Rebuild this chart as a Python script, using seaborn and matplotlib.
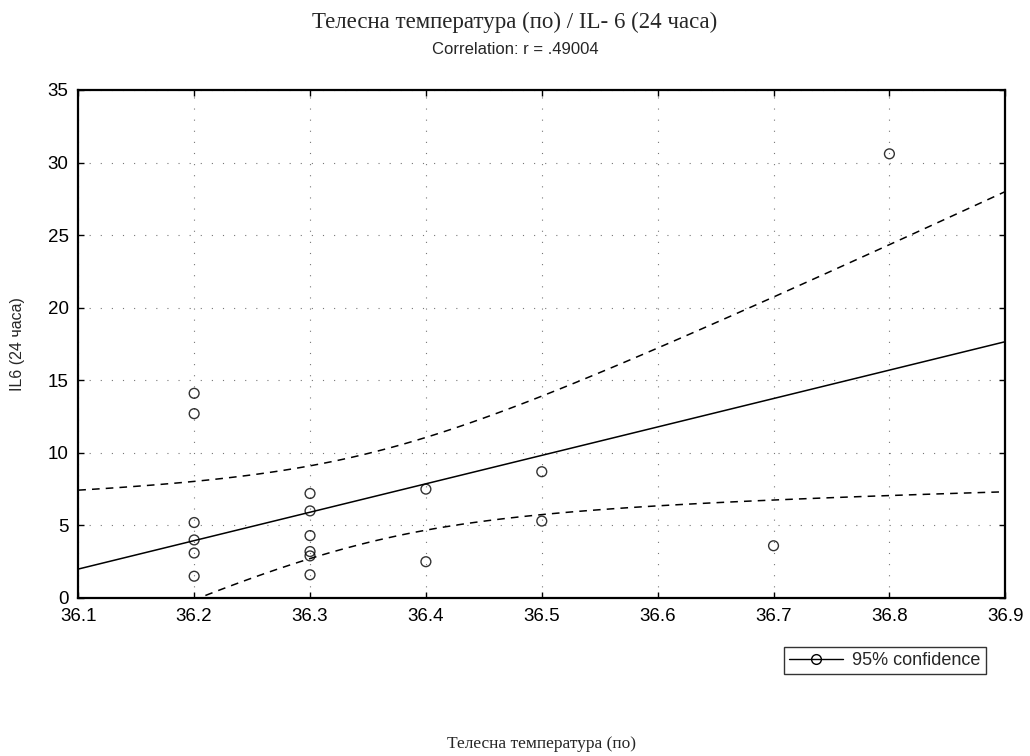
import numpy as np
import pandas as pd
import matplotlib
matplotlib.use('Agg')
import matplotlib.pyplot as plt
from matplotlib.lines import Line2D
import seaborn as sns

# data
temp = [36.2, 36.2, 36.2, 36.2, 36.2, 36.2,
        36.3, 36.3, 36.3, 36.3, 36.3, 36.3,
        36.4, 36.4, 36.5, 36.5, 36.7, 36.8]
il6 = [14.1, 12.7, 5.2, 4.0, 3.1, 1.5,
       7.2, 6.0, 4.3, 3.2, 2.9, 1.6,
       7.5, 2.5, 8.7, 5.3, 3.6, 30.6]
x_ticks = [36.1, 36.2, 36.3, 36.4, 36.5, 36.6, 36.7, 36.8, 36.9]
y_ticks = [0, 5, 10, 15, 20, 25, 30, 35]

df = pd.DataFrame({'temp': temp, 'il6': il6})

sns.set_theme(style='ticks')
serif = ['Liberation Serif', 'DejaVu Serif']
sans = ['Liberation Sans', 'DejaVu Sans']
plt.rcParams['font.family'] = sans

fig = plt.figure(figsize=(10.3, 7.56), dpi=100)
ax = fig.add_axes([0.076, 0.209, 0.900, 0.672])
ax.set_xlim(36.1, 36.9)
ax.set_ylim(0, 35)

sns.regplot(data=df, x='temp', y='il6', ci=None, truncate=False, ax=ax,
            scatter_kws=dict(facecolors='none', edgecolors='black', s=50, linewidths=1.0),
            line_kws=dict(color='black', lw=1.1))

# 95% confidence band for the fitted line, drawn as dashed curves
x = df['temp'].to_numpy()
y = df['il6'].to_numpy()
n = len(x)
b, a = np.polyfit(x, y, 1)
resid = y - (a + b * x)
s = np.sqrt(np.sum(resid ** 2) / (n - 2))
sxx = np.sum((x - x.mean()) ** 2)
t_crit = 2.12  # t(0.975, df=16)
xs = np.linspace(36.1, 36.9, 100)
fit = a + b * xs
half = t_crit * s * np.sqrt(1 / n + (xs - x.mean()) ** 2 / sxx)
ax.plot(xs, fit + half, color='black', ls=(0, (5, 4)), lw=1.1)
ax.plot(xs, fit - half, color='black', ls=(0, (5, 4)), lw=1.1)

ax.set_xlim(36.1, 36.9)
ax.set_ylim(0, 35)
ax.set_xticks(x_ticks)
ax.set_yticks(y_ticks)
ax.set_xticklabels([f'{v:.1f}' for v in x_ticks])
ax.tick_params(direction='in', length=4, width=1, top=True, right=True,
               labelsize=13.5, colors='black', pad=7)
ax.grid(True, ls=(0, (1, 9)), color='#777777', lw=0.8)
for sp in ax.spines.values():
    sp.set_linewidth(1.6)
    sp.set_color('black')

ax.set_xlabel('Телесна температура (по)', family=serif, fontsize=12.5, labelpad=80)
ax.set_ylabel('IL6 (24 часа)', family=sans, fontsize=11.5, labelpad=16)

fig.text(0.50, 0.970, 'Телесна температура (по) / IL- 6 (24 часа)', family=serif,
         fontsize=16.5, ha='center', va='center')
fig.text(0.50, 0.935, 'Correlation: r = .49004', family=sans, fontsize=12,
         ha='center', va='center')

handle = Line2D([], [], color='black', lw=1, marker='o', markerfacecolor='none',
                markeredgecolor='black', markersize=7)
fig.legend([handle], ['95% confidence'], loc='lower right',
           bbox_to_anchor=(0.966, 0.096), frameon=True, fancybox=False,
           edgecolor='black', fontsize=13, borderpad=0.3, handlelength=3.0,
           handletextpad=0.5)

plt.savefig('out.png', dpi=100)
plt.close()
